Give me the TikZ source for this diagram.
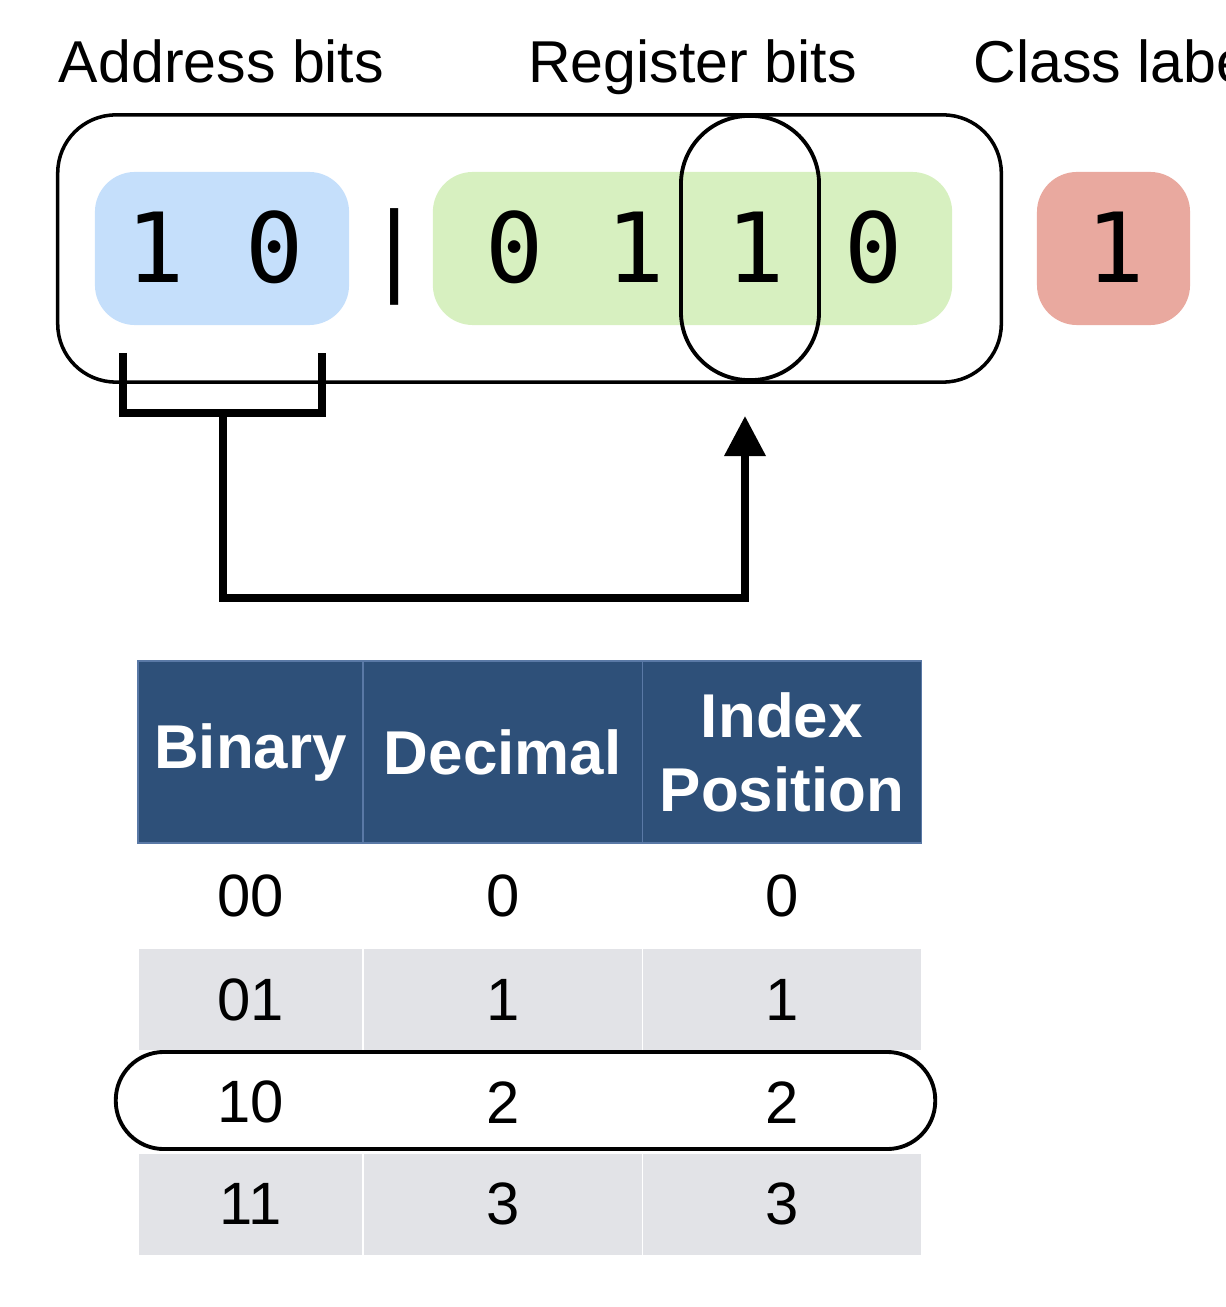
\documentclass[tikz,border=0pt]{standalone}
\usepackage{fontspec}
\setmainfont{Liberation Sans}
\newfontfamily\bitfont{DejaVu Sans Mono}
\usepackage{tikz}
\usetikzlibrary{arrows.meta}
\usetikzlibrary{positioning}

\definecolor{addrblue}{HTML}{C5DFFB}
\definecolor{reggreen}{HTML}{D7F0C0}
\definecolor{classred}{HTML}{E9A99F}
\definecolor{headblue}{HTML}{2E5079}
\definecolor{headline}{HTML}{5A79A6}
\definecolor{rowgray}{HTML}{E2E3E7}

\begin{document}
\begin{tikzpicture}[x=0.01cm, y=-0.01cm,
		bitbox/.style={rounded corners=0.4cm, minimum height=1.53cm, inner sep=0},
		bitdigit/.style={font=\fontsize{27.5}{30}\bitfont, anchor=base, inner sep=0},
		toplabel/.style={font=\fontsize{16.8}{20}\selectfont, anchor=base, inner sep=0},
		selring/.style={draw, rounded corners=#1, line width=1.1pt, inner sep=0},
		headcell/.style={fill=headblue, draw=headline, line width=0.4pt, text=white,
			font=\fontsize{17.6}{21}\selectfont\bfseries, align=center,
			minimum height=1.82cm, inner sep=0, outer sep=0},
		cell/.style={font=\fontsize{17}{20}\selectfont, inner sep=0, outer sep=0, minimum height=1.03cm},
		grayrow/.style={fill=rowgray, draw=white, line width=0.4pt},
		thickline/.style={line width=2pt}
		]
	\useasboundingbox (0,0) rectangle (1225,1307);
	\clip (0,0) rectangle (1225,1307);

	\node[toplabel](laddr) at (221.5,83){Address bits};
	\node[toplabel](lreg) at (692.5,83){Register bits};
	\node[toplabel, anchor=base west](lcls) at (973,83){Class label};

	\node[draw, rounded corners=0.58cm, line width=1pt, minimum width=9.43cm, minimum height=2.67cm](word) at (529.5,248.5){};
	\node[bitbox, fill=addrblue, minimum width=2.54cm](addr) at (222,248.5){};
	\node[bitbox, fill=reggreen, minimum width=5.19cm](reg) at (692.5,248.5){};
	\node[bitbox, fill=classred, minimum width=1.53cm](cls) at (1113.5,248.5){};

	\node[bitdigit](a1) at (156,283){1};
	\node[bitdigit](a0) at (275,283){0};
	\node[bitdigit](bar) at (395,283){|};
	\node[bitdigit](g0) at (515,283){0};
	\node[bitdigit](g1) at (636,283){1};
	\node[bitdigit](g2) at (756,283){1};
	\node[bitdigit](g3) at (874,283){0};
	\node[bitdigit](c0) at (1116,283){1};

	\node[selring=0.68cm, minimum width=1.38cm, minimum height=2.64cm](sel) at (750,248){};

	\coordinate (brkL) at (123,353);
	\coordinate (brkR) at (322,353);
	\coordinate (brkM) at (223,413);
	\draw[thickline] (brkL) |- (brkM) -| (brkR);
	\draw[thickline, -{Triangle[length=0.4cm, width=0.4cm]}, shorten >=0.34cm]
		(brkM) -- ++(0,185) -| ([xshift=-0.05cm]sel.south);

	\node[headcell, minimum width=2.25cm](hbin) at (250.5,752){Binary};
	\node[headcell, minimum width=2.79cm, right=0pt of hbin](hdec){Decimal};
	\node[headcell, minimum width=2.79cm, right=0pt of hdec](hidx){Index\\Position};

	\node[cell, minimum width=2.25cm, minimum height=1.05cm, below=0pt of hbin](b00){00};
	\node[cell, minimum width=2.79cm, minimum height=1.05cm, right=0pt of b00](d00){0};
	\node[cell, minimum width=2.79cm, minimum height=1.05cm, right=0pt of d00](i00){0};

	\node[cell, grayrow, minimum width=2.25cm, below=0pt of b00](b01){01};
	\node[cell, grayrow, minimum width=2.79cm, right=0pt of b01](d01){1};
	\node[cell, grayrow, minimum width=2.79cm, right=0pt of d01](i01){1};

	\node[cell, minimum width=2.25cm, minimum height=1.02cm, below=0pt of b01](b10){10};
	\node[cell, minimum width=2.79cm, minimum height=1.02cm, right=0pt of b10](d10){2};
	\node[cell, minimum width=2.79cm, minimum height=1.02cm, right=0pt of d10](i10){2};

	\node[cell, grayrow, minimum width=2.25cm, minimum height=1.02cm, below=0pt of b10](b11){11};
	\node[cell, grayrow, minimum width=2.79cm, minimum height=1.02cm, right=0pt of b11](d11){3};
	\node[cell, grayrow, minimum width=2.79cm, minimum height=1.02cm, right=0pt of d11](i11){3};

	\node[selring=0.48cm, minimum width=8.19cm, minimum height=0.97cm](pick) at (525.5,1100.5){};
\end{tikzpicture}
\end{document}
